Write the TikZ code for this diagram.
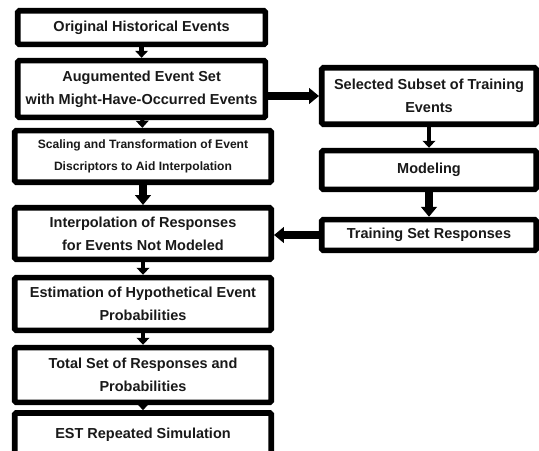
\documentclass[tikz,border=0pt]{standalone}
\usepackage{fontspec}
\setmainfont{Liberation Sans}
\usetikzlibrary{arrows.meta}
\tikzstyle{arrow} = [
	line width=3pt,
	-{Triangle[width=9pt,length=5pt]},
	black,
]
\tikzstyle{bigarrow} = [
	line width=5pt,
	-{Triangle[width=11pt,length=7pt]},
	black,
]
\tikzstyle{paso} = [
  rectangle,
  rounded corners=1pt,
  minimum width=6.19cm,
  text centered,
  align=center,
  line width=4pt,
  draw=black,
  fill=white,
  text=black!90,
  font=\bfseries\fontsize{10.3}{16.5}\selectfont
]
\tikzstyle{ancho} = [
  paso,
  minimum width=6.41cm
]
\tikzstyle{modelo} = [
  paso,
  minimum width=5.36cm
]

\begin{document}
\begin{tikzpicture}
    \useasboundingbox (0,0) rectangle (13.475,-11.25);

    \node[paso, minimum height=0.84cm] (A) at (3.54,-0.69) {Original Historical Events};
    \node[paso, minimum height=1.42cm] (B) at (3.54,-2.225) {Augumented Event Set\\ with Might-Have-Occurred Events};
    \node[ancho, minimum height=1.29cm, font=\bfseries\fontsize{8.6}{16}\selectfont] (C) at (3.575,-3.91) {Scaling and Transformation of Event\\ Discriptors to Aid Interpolation};
    \node[ancho, minimum height=1.29cm] (D) at (3.575,-5.84) {Interpolation of Responses\\ for Events Not Modeled};
    \node[ancho, minimum height=1.32cm] (E) at (3.575,-7.6) {Estimation of Hypothetical Event\\ Probabilities};
    \node[ancho, minimum height=1.37cm] (F) at (3.575,-9.375) {Total Set of Responses and\\ Probabilities};
    \node[ancho, minimum height=1.1cm] (G) at (3.575,-10.875) {EST Repeated Simulation};

    \node[modelo, minimum height=1.41cm] (H) at (10.725,-2.4) {Selected Subset of Training\\ Events};
    \node[modelo, minimum height=0.97cm] (I) at (10.725,-4.25) {Modeling};
    \node[modelo, minimum height=0.77cm] (J) at (10.725,-5.875) {Training Set Responses};

    \draw[arrow] (A) -- (B);
    \draw[arrow] (B) -- (C);
    \draw[bigarrow] (C) -- (D);
    \draw[arrow] (D) -- (E);
    \draw[arrow] (E) -- (F);
    \draw[arrow] (F) -- (G);
    \draw[bigarrow] (B.east |- H.west) -- (H.west);
    \draw[arrow] (H) -- (I);
    \draw[bigarrow] (I) -- (J);
    \draw[bigarrow] (J.west) -- (J.west -| D.east);
  \end{tikzpicture}
\end{document}
